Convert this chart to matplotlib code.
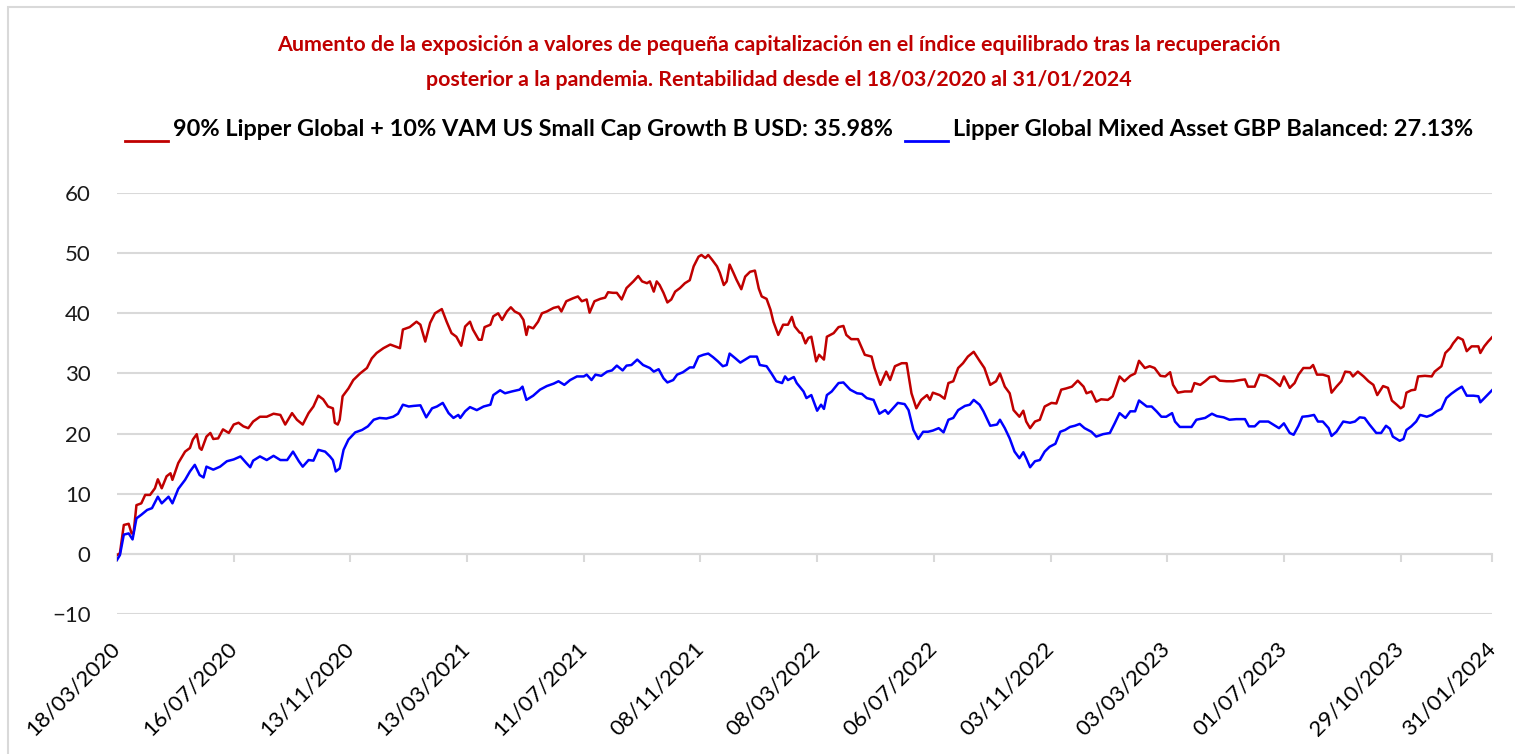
import matplotlib
matplotlib.use("Agg")
import matplotlib.pyplot as plt
import pandas as pd
from matplotlib.lines import Line2D
from matplotlib.patches import Rectangle

W, H = 1515, 754
RED = "#C00000"
BLUE = "#0000FF"
GRID = "#D9D9D9"

start = pd.Timestamp("2020-03-18")
end = pd.Timestamp("2024-01-31")

# days after 18/03/2020 and cumulative return (%)
red_days = [0, 3, 7, 12, 15, 17, 20, 25, 29, 34, 39, 42, 46, 51, 55, 57, 63, 70, 75, 78,
            82, 85, 87, 92, 96, 99, 104, 109, 115, 120, 125, 130, 135, 140, 147, 154, 161, 168, 173, 180,
            185, 191, 197, 202, 207, 212, 217, 222, 224, 227, 229, 232, 238, 243, 250, 257, 262, 267, 274, 281,
            286, 291, 294, 301, 308, 312, 317, 322, 327, 334, 339, 344, 349, 354, 358, 363, 366, 372, 375, 378,
            384, 387, 392, 396, 401, 405, 409, 414, 418, 421, 423, 428, 433, 437, 442, 449, 454, 457, 462, 469,
            474, 478, 483, 486, 491, 497, 502, 505, 510, 514, 519, 524, 531, 536, 540, 545, 548, 552, 555, 558,
            562, 566, 570, 574, 579, 584, 589, 593, 598, 601, 605, 608, 612, 617, 620, 624, 627, 630, 634, 637,
            642, 646, 651, 656, 660, 663, 668, 672, 675, 680, 685, 690, 694, 697, 702, 704, 708, 711, 714, 719,
            722, 727, 730, 737, 742, 747, 750, 755, 762, 769, 776, 779, 785, 788, 791, 795, 800, 807, 812, 817,
            822, 827, 833, 836, 839, 846, 851, 855, 860, 865, 870, 875, 881, 887, 892, 898, 904, 908, 913, 918,
            922, 928, 932, 935, 939, 944, 949, 954, 961, 966, 971, 976, 982, 988, 994, 997, 1002, 1007, 1012, 1019,
            1024, 1031, 1036, 1042, 1047, 1051, 1057, 1062, 1067, 1073, 1078, 1083, 1086, 1091, 1098, 1105, 1108, 1114, 1119, 1124,
            1129, 1134, 1141, 1148, 1155, 1160, 1163, 1170, 1175, 1182, 1189, 1196, 1200, 1206, 1211, 1215, 1220, 1227, 1230, 1234,
            1240, 1246, 1249, 1254, 1259, 1263, 1268, 1271, 1276, 1282, 1287, 1292, 1296, 1302, 1307, 1311, 1316, 1320, 1323, 1326,
            1331, 1335, 1338, 1345, 1352, 1355, 1362, 1366, 1371, 1374, 1379, 1384, 1388, 1393, 1400, 1402, 1406, 1410, 1414]
red_vals = [-0.2, 0.1, 4.8, 5.0, 3.4, 3.4, 8.1, 8.4, 9.8, 9.8, 10.9, 12.4, 10.9, 12.9, 13.4, 12.3, 15.1, 17.0, 17.6, 19.0,
            19.9, 17.6, 17.3, 19.5, 20.1, 19.1, 19.2, 20.7, 20.1, 21.5, 21.8, 21.2, 20.9, 22.0, 22.8, 22.8, 23.3, 23.1, 21.5, 23.4,
            22.3, 21.5, 23.4, 24.5, 26.3, 25.7, 24.5, 24.2, 21.8, 21.5, 22.3, 26.2, 27.5, 28.9, 30.0, 30.9, 32.5, 33.4, 34.2, 34.8,
            34.5, 34.2, 37.3, 37.7, 38.6, 38.1, 35.3, 38.4, 40.0, 40.7, 38.6, 36.7, 36.1, 34.6, 37.8, 38.6, 37.3, 35.6, 35.6, 37.7,
            38.1, 39.5, 40.0, 38.9, 40.3, 41.0, 40.3, 39.9, 38.9, 36.4, 37.8, 37.5, 38.6, 40.0, 40.3, 40.9, 41.1, 40.3, 42.0, 42.5,
            42.8, 42.0, 42.3, 40.1, 42.0, 42.4, 42.6, 43.5, 43.4, 43.4, 42.3, 44.2, 45.3, 46.2, 45.3, 45.0, 45.3, 43.6, 45.3, 44.7,
            43.4, 41.8, 42.3, 43.6, 44.2, 45.0, 45.5, 47.8, 49.4, 49.7, 49.2, 49.7, 48.9, 47.8, 46.7, 44.7, 45.3, 48.1, 46.7, 45.6,
            44.0, 46.1, 46.9, 47.1, 44.1, 42.8, 42.4, 40.6, 38.6, 36.4, 38.1, 38.1, 39.4, 37.8, 36.8, 36.7, 35.0, 35.9, 36.1, 32.0,
            33.1, 32.3, 36.1, 36.7, 37.7, 37.9, 36.4, 35.7, 35.7, 33.1, 32.8, 30.9, 28.1, 29.2, 30.3, 28.9, 31.2, 31.7, 31.7, 26.7,
            24.2, 25.6, 26.4, 25.6, 26.8, 26.4, 25.8, 28.4, 28.7, 30.9, 31.7, 32.8, 33.6, 32.1, 30.9, 28.1, 28.7, 30.0, 27.8, 26.7,
            23.9, 22.8, 23.8, 22.0, 20.9, 22.0, 22.3, 24.5, 25.1, 25.0, 27.3, 27.5, 27.8, 28.8, 27.8, 26.7, 27.0, 25.3, 25.7, 25.6,
            26.2, 29.5, 28.7, 29.6, 30.0, 32.1, 30.9, 31.2, 30.9, 29.6, 29.5, 30.2, 28.1, 26.8, 27.0, 27.0, 28.4, 28.1, 28.7, 29.4,
            29.5, 28.8, 28.7, 28.7, 28.9, 29.0, 27.8, 27.8, 29.8, 29.6, 28.9, 27.9, 29.5, 27.6, 28.4, 29.8, 30.9, 30.9, 31.4, 29.8,
            29.8, 29.5, 26.8, 27.8, 28.7, 30.3, 30.2, 29.5, 30.3, 29.5, 28.7, 28.1, 26.4, 27.9, 27.6, 25.5, 24.8, 24.2, 24.5, 26.8,
            27.2, 27.3, 29.5, 29.6, 29.5, 30.3, 31.2, 33.4, 34.2, 35.0, 36.0, 35.6, 33.7, 34.5, 34.5, 33.4, 34.5, 35.3, 36.0]

blue_days = [0, 3, 7, 12, 16, 20, 25, 31, 36, 42, 46, 53, 57, 63, 70, 75, 80, 85, 89, 92,
             99, 106, 113, 120, 127, 133, 137, 140, 147, 154, 161, 168, 175, 181, 187, 191, 197, 202, 207, 214,
             219, 222, 225, 229, 233, 238, 245, 252, 258, 264, 270, 277, 284, 289, 294, 300, 305, 312, 318, 324,
             329, 335, 341, 346, 351, 353, 358, 363, 370, 377, 384, 387, 394, 399, 406, 414, 417, 421, 428, 435,
             442, 449, 454, 460, 466, 473, 480, 483, 488, 492, 498, 504, 509, 514, 520, 524, 529, 535, 541, 548,
             552, 557, 562, 566, 572, 576, 582, 589, 593, 598, 603, 608, 613, 618, 623, 627, 630, 636, 641, 646,
             651, 658, 661, 668, 673, 678, 684, 687, 690, 696, 699, 702, 706, 709, 714, 720, 724, 727, 730, 735,
             742, 747, 754, 761, 766, 771, 778, 784, 790, 793, 798, 803, 810, 814, 819, 824, 829, 834, 839, 845,
             850, 855, 860, 865, 872, 877, 881, 887, 891, 898, 905, 908, 913, 918, 923, 928, 932, 935, 939, 944,
             949, 954, 959, 965, 970, 975, 980, 985, 990, 995, 1002, 1007, 1014, 1021, 1026, 1031, 1037, 1042, 1047, 1051,
             1059, 1064, 1069, 1074, 1079, 1085, 1088, 1093, 1100, 1105, 1110, 1119, 1126, 1131, 1138, 1144, 1151, 1160, 1164, 1170,
             1175, 1184, 1189, 1195, 1200, 1206, 1210, 1215, 1219, 1225, 1231, 1235, 1240, 1246, 1249, 1254, 1261, 1268, 1273, 1278,
             1283, 1288, 1295, 1300, 1305, 1309, 1312, 1319, 1323, 1326, 1331, 1336, 1340, 1347, 1352, 1357, 1362, 1367, 1372, 1378,
             1383, 1388, 1395, 1400, 1402, 1408, 1414]
blue_vals = [-1.0, -0.2, 3.2, 3.4, 2.4, 5.9, 6.5, 7.3, 7.6, 9.5, 8.4, 9.5, 8.4, 10.8, 12.3, 13.7, 14.8, 13.1, 12.7, 14.5,
             14.0, 14.5, 15.4, 15.7, 16.2, 15.1, 14.4, 15.5, 16.2, 15.6, 16.3, 15.6, 15.6, 17.0, 15.4, 14.5, 15.6, 15.5, 17.3, 17.0,
             16.2, 15.6, 13.7, 14.2, 17.3, 19.0, 20.2, 20.6, 21.2, 22.3, 22.6, 22.5, 22.8, 23.3, 24.8, 24.5, 24.6, 24.7, 22.7, 24.2,
             24.5, 25.1, 23.4, 22.6, 23.1, 22.6, 23.7, 24.4, 23.9, 24.5, 24.8, 26.4, 27.2, 26.7, 27.0, 27.3, 27.8, 25.6, 26.3, 27.3,
             27.9, 28.3, 28.7, 28.1, 28.9, 29.5, 29.5, 29.8, 28.9, 29.8, 29.6, 30.3, 30.5, 31.3, 30.5, 31.3, 31.4, 32.3, 31.4, 30.9,
             30.3, 30.7, 29.2, 28.5, 28.9, 29.8, 30.2, 31.0, 31.0, 32.8, 33.1, 33.3, 32.7, 32.0, 31.2, 31.4, 33.3, 32.5, 31.8, 32.3,
             32.8, 32.8, 31.4, 31.2, 30.0, 28.7, 28.4, 29.5, 28.9, 29.4, 28.4, 27.8, 27.0, 25.9, 26.4, 23.8, 24.8, 24.1, 26.4, 27.0,
             28.4, 28.5, 27.3, 26.7, 26.6, 25.9, 25.6, 23.3, 23.9, 23.3, 24.2, 25.1, 24.9, 23.9, 20.6, 19.1, 20.3, 20.3, 20.5, 20.9,
             20.2, 22.3, 22.6, 23.9, 24.6, 24.8, 25.6, 24.8, 23.7, 21.3, 21.5, 22.3, 20.9, 19.2, 17.0, 15.9, 16.9, 15.9, 14.4, 15.4,
             15.6, 17.0, 17.8, 18.3, 20.3, 20.6, 21.1, 21.3, 21.6, 20.9, 20.3, 19.5, 19.9, 20.1, 21.7, 23.4, 22.6, 23.7, 23.7, 25.5,
             24.5, 24.5, 23.7, 22.8, 22.8, 23.4, 22.0, 21.1, 21.1, 21.1, 22.3, 22.6, 23.3, 22.9, 22.7, 22.3, 22.4, 22.4, 21.2, 21.2,
             22.0, 22.0, 21.5, 20.9, 21.7, 20.1, 19.8, 21.3, 22.8, 22.9, 23.1, 22.0, 22.0, 20.9, 19.6, 20.3, 22.0, 21.8, 22.0, 22.7,
             22.6, 21.5, 20.1, 20.1, 21.3, 20.8, 19.5, 18.8, 19.1, 20.6, 21.2, 22.0, 23.1, 22.8, 23.1, 23.7, 24.1, 25.9, 26.6, 27.3,
             27.8, 26.3, 26.3, 26.2, 25.2, 26.2, 27.2]

tick_labels = ["18/03/2020", "16/07/2020", "13/11/2020", "13/03/2021", "11/07/2021", "08/11/2021",
               "08/03/2022", "06/07/2022", "03/11/2022", "03/03/2023", "01/07/2023", "29/10/2023", "31/01/2024"]
y_ticks = [-10, 0, 10, 20, 30, 40, 50, 60]

title_lines = ["Aumento de la exposición a valores de pequeña capitalización en el índice equilibrado tras la recuperación",
               "posterior a la pandemia. Rentabilidad desde el 18/03/2020 al 31/01/2024"]
red_label = "90% Lipper Global + 10% VAM US Small Cap Growth B USD: 35.98%"
blue_label = "Lipper Global Mixed Asset GBP Balanced: 27.13%"

plt.rcParams["font.family"] = ["Lato", "DejaVu Sans"]

fig = plt.figure(figsize=(W / 100, H / 100), dpi=100)
ax = fig.add_axes([117 / W, 1 - 614 / H, (1492 - 117) / W, (614 - 193) / H])

red_x = start + pd.to_timedelta(red_days, unit="D")
blue_x = start + pd.to_timedelta(blue_days, unit="D")
ax.plot(red_x, red_vals, color=RED, lw=1.8, zorder=3)
ax.plot(blue_x, blue_vals, color=BLUE, lw=1.8, zorder=3)

ax.set_xlim(start, end)
ax.set_ylim(-10, 60)
ax.set_yticks(y_ticks)
ax.grid(axis="y", color=GRID, lw=1.5)
ax.set_axisbelow(True)

tick_dates = pd.to_datetime(tick_labels, dayfirst=True)
ax.set_xticks(tick_dates)
ax.set_xticklabels(tick_labels)

for s in ["top", "right", "left"]:
    ax.spines[s].set_visible(False)
ax.spines["bottom"].set_position(("data", 0))
ax.spines["bottom"].set_color(GRID)
ax.spines["bottom"].set_linewidth(1.5)
ax.tick_params(axis="x", colors=GRID, length=6, width=1.5, pad=60, labelcolor="black", labelsize=16)
ax.tick_params(axis="y", length=0, pad=19, labelsize=16, labelcolor="#1a1a1a")
plt.setp(ax.get_xticklabels(), rotation=45, ha="right", va="center", rotation_mode="anchor")

# title and legend drawn as figure text
t1 = fig.text(779 / W, 1 - 45 / H, title_lines[0], color=RED, fontweight="bold", fontsize=14,
              ha="center", va="center")
t2 = fig.text(779 / W, 1 - 80 / H, title_lines[1], color=RED, fontweight="bold", fontsize=14,
              ha="center", va="center")
l1 = fig.text(173 / W, 1 - 130 / H, red_label, color="black", fontweight="bold", fontsize=17,
              ha="left", va="center")
l2 = fig.text(953 / W, 1 - 130 / H, blue_label, color="black", fontweight="bold", fontsize=17,
              ha="left", va="center")

r = fig.canvas.get_renderer()
s = 14 * 1008 / t1.get_window_extent(r).width
t1.set_fontsize(s)
t2.set_fontsize(s)
s = 17 * 720 / l1.get_window_extent(r).width
l1.set_fontsize(s)
l2.set_fontsize(s)

fig.add_artist(Line2D([125 / W, 168 / W], [1 - 141 / H] * 2, color=RED, lw=2))
fig.add_artist(Line2D([905 / W, 948 / W], [1 - 141 / H] * 2, color=BLUE, lw=2))

fig.patches.append(Rectangle((8 / W, -0.1), 1.2, 1.1 - 7 / H, transform=fig.transFigure,
                             fill=False, ec=GRID, lw=1.5))

fig.savefig("out.png", dpi=100)
